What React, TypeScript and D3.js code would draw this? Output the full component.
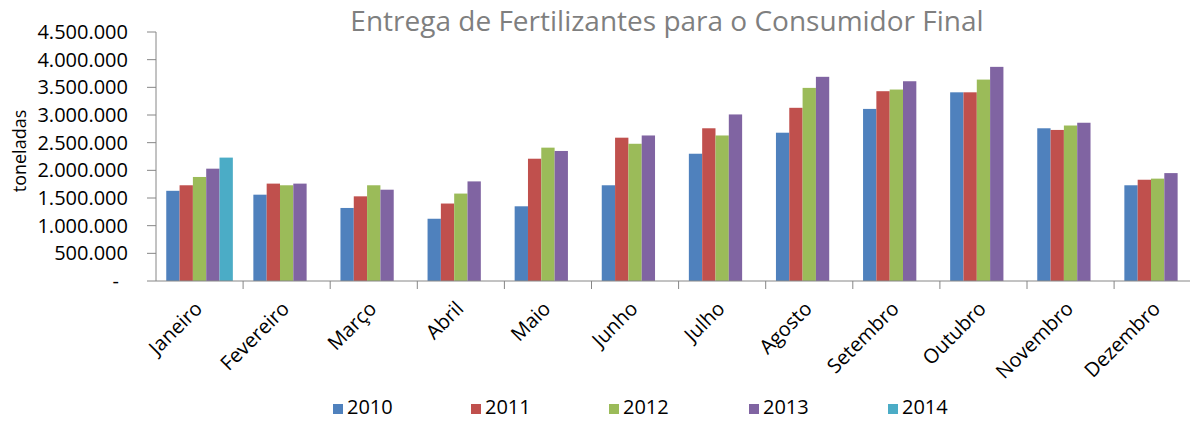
import React from "react";
import * as d3 from "d3";

const months = ["Janeiro", "Fevereiro", "Março", "Abril", "Maio", "Junho", "Julho", "Agosto", "Setembro", "Outubro", "Novembro", "Dezembro"];
const years = ["2010", "2011", "2012", "2013", "2014"];

// toneladas entregues por mês
const v2010 = [1630000, 1560000, 1320000, 1125000, 1350000, 1730000, 2300000, 2680000, 3110000, 3410000, 2760000, 1730000];
const v2011 = [1730000, 1760000, 1530000, 1400000, 2210000, 2590000, 2760000, 3130000, 3430000, 3410000, 2730000, 1830000];
const v2012 = [1880000, 1730000, 1730000, 1580000, 2410000, 2480000, 2630000, 3490000, 3460000, 3640000, 2810000, 1850000];
const v2013 = [2030000, 1760000, 1650000, 1800000, 2350000, 2630000, 3010000, 3690000, 3610000, 3870000, 2860000, 1950000];
const v2014: (number | null)[] = [2230000, null, null, null, null, null, null, null, null, null, null, null];

const yTicks = [0, 500000, 1000000, 1500000, 2000000, 2500000, 3000000, 3500000, 4000000, 4500000];
const colors = ["#4F81BD", "#C0504D", "#9BBB59", "#8064A2", "#4BACC6"];

const series = [v2010, v2011, v2012, v2013, v2014];

const W = 1190;
const H = 421;
const left = 156;
const catW = 87.1;
const baseY = 281;
const topY = 32;
const font = "'Open Sans', sans-serif";
const axisColor = "#868686";

const fmt = (v: number) => (v === 0 ? "-" : d3.format(",")(v).replace(/,/g, "."));

export default function App() {
  const x = d3.scaleBand<string>().domain(months).range([left, left + catW * months.length]).paddingInner(0).paddingOuter(0);
  const barW = x.bandwidth() / 6.54;
  const gap = x.bandwidth() - barW * years.length;
  const x1 = d3.scaleBand<string>().domain(years).range([gap / 2, gap / 2 + barW * years.length]);
  const y = d3.scaleLinear().domain([0, 4500000]).range([baseY, topY]);

  const legendX = [333, 471, 609, 749, 888];

  return (
    <svg width={W} height={H} style={{ position: "absolute", left: 0, top: 0, background: "#fff" }} fontFamily={font}>
      <text x={667} y={31} textAnchor="middle" fontSize={28} fill="#7f7f7f">
        Entrega de Fertilizantes para o Consumidor Final
      </text>

      <text transform={`translate(26,151) rotate(-90)`} textAnchor="middle" fontSize={18} fill="#000">
        toneladas
      </text>

      {/* y axis */}
      <line x1={left} x2={left} y1={topY} y2={baseY} stroke={axisColor} />
      {yTicks.map((t) => (
        <g key={t}>
          <line x1={left - 9} x2={left} y1={y(t)} y2={y(t)} stroke={axisColor} />
          <text x={t === 0 ? 119 : 128} y={y(t)} dy="0.35em" textAnchor="end" fontSize={20} fill="#000">
            {fmt(t)}
          </text>
        </g>
      ))}

      {/* bars */}
      {series.map((vals, si) =>
        vals.map((v, mi) =>
          v == null ? null : (
            <rect
              key={`${si}-${mi}`}
              x={(x(months[mi]) as number) + (x1(years[si]) as number)}
              y={y(v)}
              width={barW}
              height={baseY - y(v)}
              fill={colors[si]}
            />
          )
        )
      )}

      {/* x axis */}
      <line x1={left} x2={left + catW * months.length} y1={baseY} y2={baseY} stroke={axisColor} />
      {months.map((m, i) => (
        <line key={m} x1={left + catW * (i + 1)} x2={left + catW * (i + 1)} y1={baseY} y2={baseY + 8} stroke={axisColor} />
      ))}
      {months.map((m) => (
        <text
          key={m}
          transform={`translate(${(x(m) as number) + x.bandwidth() / 2 - 6},${baseY + 19}) rotate(-45)`}
          textAnchor="end"
          dy="0.7em"
          fontSize={20}
          fill="#000"
        >
          {m}
        </text>
      ))}

      {/* legend */}
      {years.map((yr, i) => (
        <g key={yr}>
          <rect x={legendX[i]} y={404} width={10} height={10} fill={colors[i]} />
          <text x={legendX[i] + 14} y={414} fontSize={20} fill="#000">
            {yr}
          </text>
        </g>
      ))}
    </svg>
  );
}
